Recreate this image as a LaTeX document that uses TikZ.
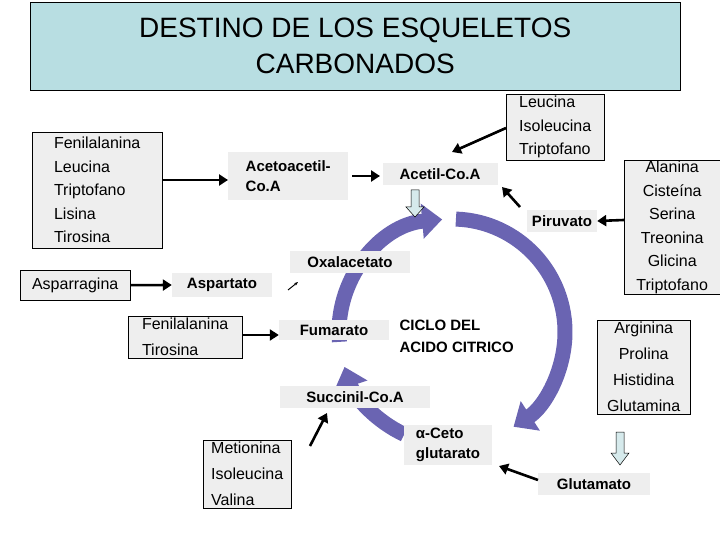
\documentclass[tikz,border=0pt]{standalone}
\usepackage{fontspec}
\setmainfont{Liberation Sans}
\usetikzlibrary{arrows.meta}
\definecolor{gfill}{HTML}{EEEEEE}
\definecolor{tfill}{HTML}{B8DEE2}
\definecolor{cyc}{HTML}{6A64B2}
\definecolor{hol}{HTML}{D6EAEC}
\begin{document}
\begin{tikzpicture}[x=1pt,y=-1pt,
  box/.style={draw=black,fill=gfill,align=left,font=\fontsize{16}{23.5}\selectfont,inner sep=2pt,anchor=north west},
  lab/.style={fill=gfill,align=left,font=\bfseries\fontsize{15}{20}\selectfont,inner sep=5pt},
  blk/.style={-{Triangle[length=9pt,width=11pt]},line width=2.6pt},
  hollow/.style={draw=black,fill=hol,line width=0.5pt},
  cy/.style={draw=cyc,line width=15pt,-{Triangle[length=20pt,width=34pt]}}]
\useasboundingbox (0,0) rectangle (720,540);
\node[draw=black,fill=tfill,minimum width=650,minimum height=88,anchor=north west,align=center,font=\fontsize{28}{36}\selectfont] (title) at (30,2) {DESTINO DE LOS ESQUELETOS\\CARBONADOS};
% cycle
\draw[cy] ([shift={(452,332)}]-185:113) arc[start angle=-185,end angle=-95,radius=113];
\draw[cy] ([shift={(452,332)}]-88:113) arc[start angle=-88,end angle=57,radius=113];
\draw[cy] ([shift={(452,332)}]115:113) arc[start angle=115,end angle=162,radius=113];
% boxes
\node[box,minimum width=130,minimum height=116] (b1) at (32,132) {Fenilalanina\\Leucina\\Triptofano\\Lisina\\Tirosina};
\node[box,minimum width=98] (b2) at (506,94) {Leucina\\Isoleucina\\Triptofano};
\node[box,minimum width=96,align=center,inner sep=1pt] (b3) at (624,160) {Alanina\\Cisteína\\Serina\\Treonina\\Glicina\\Triptofano};
\node[box,minimum width=110,minimum height=30] (b4) at (20,270) {Asparragina};
\node[box,minimum width=114,font=\fontsize{16}{26}\selectfont] (b5) at (128,316) {Fenilalanina\\Tirosina};
\node[box,minimum width=93,align=center,font=\fontsize{16}{26}\selectfont] (b6) at (597,320) {Arginina\\Prolina\\Histidina\\Glutamina};
\node[box,minimum width=88,font=\fontsize{16}{26}\selectfont] (b7) at (203,440) {Metionina\\Isoleucina\\Valina};
% labels
\node[lab,anchor=north west,minimum width=120,minimum height=48] (aca) at (228,152) {Acetoacetil-\\Co.A};
\node[lab,minimum width=115] (ac) at (440,174) {Acetil-Co.A};
\node[lab] (pir) at (562,221) {Piruvato};
\node[lab,minimum width=120] (oxa) at (350,262) {Oxalacetato};
\node[lab,minimum width=100] (asp) at (222,285) {Aspartato};
\node[lab,minimum width=110] (fum) at (334,330) {Fumarato};
\node[align=left,font=\bfseries\fontsize{15}{22}\selectfont,anchor=north west] (cic) at (396,316) {CICLO DEL\\ACIDO CITRICO};
\node[lab,minimum width=150] (suc) at (355,397) {Succinil-Co.A};
\node[lab,minimum width=88,inner sep=3pt,font=\bfseries\fontsize{15}{20}\selectfont] (ake) at (448,445) {α-Ceto\\glutarato};
\node[lab,minimum width=112] (glu) at (594,484) {Glutamato};
% arrows
\draw[blk] (b1.east|-172,180) -- (aca.west|-218,180);
\draw[blk] (352,176) -- (380,176);
\draw[blk] (b2.west|-498,128) -- (452,152);
\draw[blk] (520,207) -- (502,187);
\draw[blk] (b3.west|-622,220) -- (pir.east);
\draw[blk] (b4.east) -- (asp.west);
\draw[blk] (b5.east|-242,335) -- (fum.west|-272,335);
\draw[blk] (538,480) -- (499,466);
\draw[blk] (310,446) -- (327,413);
\draw[-{Stealth[length=4pt]},line width=1pt] (288,290) -- (298,282);
% hollow arrows
\draw[hollow] (411,190) -- (419,190) -- (419,207) -- (424,207) -- (415,217) -- (406,207) -- (411,207) -- cycle;
\draw[hollow] (616,432) -- (624,432) -- (624,453) -- (629,453) -- (620,465) -- (611,453) -- (616,453) -- cycle;
\end{tikzpicture}
\end{document}
